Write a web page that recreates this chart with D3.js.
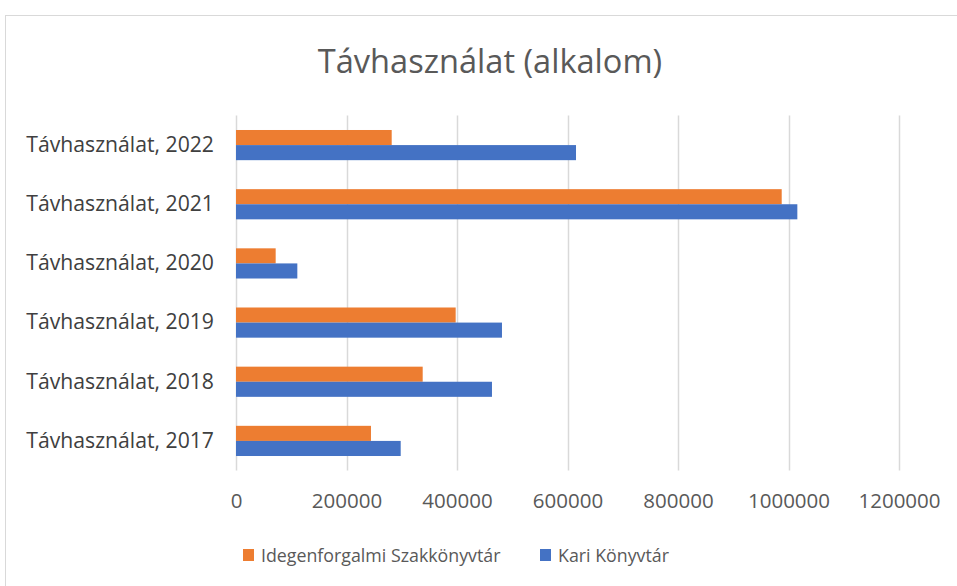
<!DOCTYPE html>
<html lang="hu">
<head>
<meta charset="UTF-8">
<title>Távhasználat (alkalom)</title>
<script src="https://d3js.org/d3.v7.min.js"></script>
<style>
    body {margin: 0; background: #fff;}
    text {font-family: "Open Sans", sans-serif; fill: #595959;}
</style>
</head>
<body>
<script>
    const categories = ["Távhasználat, 2022", "Távhasználat, 2021", "Távhasználat, 2020",
                        "Távhasználat, 2019", "Távhasználat, 2018", "Távhasználat, 2017"];
    const seriesNames = ["Idegenforgalmi Szakkönyvtár", "Kari Könyvtár"];
    const idegenforgalmi = [281800, 987700, 71800, 397600, 337900, 244300];
    const kari = [615400, 1016000, 111000, 481400, 463300, 298100];
    const xTicks = [0, 200000, 400000, 600000, 800000, 1000000, 1200000];
    const colors = ["#ED7D31", "#4472C4"];

    const width = 957, height = 586;
    const margin = {top: 115.5, left: 236, right: 58, bottom: 115.5};

    const svg = d3.select("body").append("svg")
        .attr("width", width).attr("height", height);

    // chart border
    svg.append("rect")
        .attr("x", 5.5).attr("y", 15.5)
        .attr("width", width + 10).attr("height", height)
        .style("fill", "none").style("stroke", "#d9d9d9");

    const x = d3.scaleLinear()
        .domain([0, 1200000])
        .range([margin.left, width - margin.right]);

    const y = d3.scaleBand()
        .domain(categories)
        .range([margin.top, height - margin.bottom])
        .paddingInner(0.49).paddingOuter(0.245);

    const ySub = d3.scaleBand()
        .domain(seriesNames)
        .range([0, y.bandwidth()]);

    // gridlines
    svg.append("g").selectAll("line")
        .data(xTicks)
        .join("line")
        .attr("x1", d => Math.round(x(d)) + 0.5).attr("x2", d => Math.round(x(d)) + 0.5)
        .attr("y1", margin.top).attr("y2", height - margin.bottom)
        .style("stroke", "#d9d9d9").style("stroke-width", 1.5);

    // bars
    const rows = categories.map((c, i) => ({cat: c, values: [idegenforgalmi[i], kari[i]]}));
    svg.append("g").selectAll("g")
        .data(rows)
        .join("g")
        .attr("transform", d => `translate(0,${y(d.cat)})`)
        .selectAll("rect")
        .data(d => d.values.map((v, j) => ({name: seriesNames[j], v: v, j: j})))
        .join("rect")
        .attr("x", x(0))
        .attr("y", d => ySub(d.name))
        .attr("width", d => x(d.v) - x(0))
        .attr("height", ySub.bandwidth())
        .style("fill", d => colors[d.j]);

    // x axis labels
    const xAxis = d3.axisBottom(x).tickValues(xTicks).tickSize(0).tickPadding(0)
        .tickFormat(d3.format("d"));
    svg.append("g")
        .attr("transform", `translate(0,${height - margin.bottom + 23})`)
        .call(xAxis)
        .call(g => g.select(".domain").remove())
        .selectAll("text")
        .style("font-family", "Open Sans, sans-serif")
        .style("font-size", "20.5px")
        .style("fill", "#595959");

    // y axis labels
    const yAxis = d3.axisLeft(y).tickSize(0).tickPadding(22);
    svg.append("g")
        .attr("transform", `translate(${margin.left},0)`)
        .call(yAxis)
        .call(g => g.select(".domain").remove())
        .selectAll("text")
        .style("font-family", "Open Sans, sans-serif")
        .style("font-size", "21.2px")
        .style("fill", "#404040");

    // title
    svg.append("text")
        .attr("x", 490).attr("y", 73)
        .attr("text-anchor", "middle")
        .style("font-size", "32.6px")
        .text("Távhasználat (alkalom)");

    // legend
    const legendX = [243, 540];
    const legend = svg.append("g").selectAll("g")
        .data(seriesNames)
        .join("g")
        .attr("transform", (d, i) => `translate(${legendX[i]},549)`);
    legend.append("rect")
        .attr("width", 11).attr("height", 12)
        .style("fill", (d, i) => colors[i]);
    legend.append("text")
        .attr("x", 18).attr("y", 13)
        .style("font-size", "17.8px")
        .text(d => d);
</script>
</body>
</html>
